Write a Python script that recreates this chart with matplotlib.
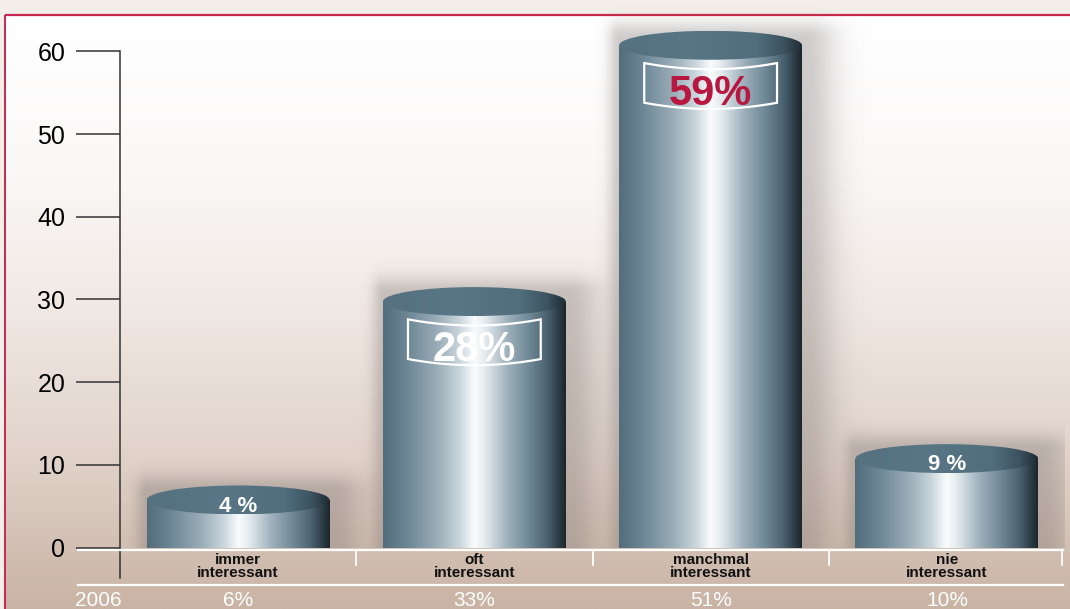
import numpy as np
import matplotlib
matplotlib.use("Agg")
import matplotlib.pyplot as plt
from matplotlib.colors import LinearSegmentedColormap, to_rgb
from matplotlib.patches import Ellipse, PathPatch
from matplotlib.path import Path

# ---------------- data ----------------
categories = ["immer\ninteressant", "oft\ninteressant", "manchmal\ninteressant", "nie\ninteressant"]
values_2010 = [4, 28, 59, 9]
labels_2010 = ["4 %", "28%", "59%", "9 %"]
year_prev = "2006"
labels_2006 = ["6%", "33%", "51%", "10%"]
yticks = [0, 10, 20, 30, 40, 50, 60]

W, H = 1070, 609
fig = plt.figure(figsize=(W / 100, H / 100), dpi=100)

# ---------------- background (pixel axes) ----------------
bg = fig.add_axes([0, 0, 1, 1])
bg.set_xlim(0, W)
bg.set_ylim(H, 0)
bg.axis("off")
bg.add_patch(plt.Rectangle((0, 0), W, H, color="#F3EEE8", zorder=0))
bg_cmap = LinearSegmentedColormap.from_list(
    "bg", [(0, "#FFFFFF"), (0.25, "#FBF9F8"), (0.5, "#F0E8E3"), (0.75, "#E0D2C9"), (1.0, "#C9B3A4")])
grad = np.linspace(0, 1, 256).reshape(-1, 1)
bg.imshow(grad, cmap=bg_cmap, extent=(5, W, H, 15), aspect="auto", zorder=1)
bg.plot([4.5, W], [14.5, 14.5], color="#C8284F", lw=1.6, zorder=2, solid_capstyle="butt")
bg.plot([4.5, 4.5], [14.5, H], color="#C8284F", lw=1.4, zorder=2, solid_capstyle="butt")

# ---------------- main axes ----------------
px_per_unit = 8.267
ymin, ymax = -7.3, 66.0
bottom_px = 547.5 + (-ymin) * px_per_unit
height_px = (ymax - ymin) * px_per_unit
ax = fig.add_axes([120 / W, (H - bottom_px) / H, 945 / W, height_px / H])
ax.patch.set_alpha(0)
ax.set_zorder(3)

n = len(categories)
xs = np.arange(n)
bw = 0.387          # half width of cylinder
eh = 1.75           # vertical semi-axis of top ellipse

body_cmap = LinearSegmentedColormap.from_list("body", [
    (0.00, "#536D7C"), (0.12, "#6A8493"), (0.30, "#9BAEB9"), (0.42, "#CAD6DD"),
    (0.50, "#FAFCFD"), (0.56, "#E3EAEE"), (0.68, "#9FB1BC"), (0.80, "#6F8896"),
    (0.90, "#4A6170"), (0.96, "#2E3E48"), (1.00, "#1C262C")])
top_cmap = LinearSegmentedColormap.from_list("top", [
    (0.00, "#56717F"), (0.40, "#587685"), (0.75, "#516E7D"), (0.90, "#3C5360"), (1.00, "#1F2B33")])
hgrad = np.linspace(0, 1, 256).reshape(1, -1)

for i, (c, v) in enumerate(zip(xs, values_2010)):
    yc = v + eh
    # soft shadow
    gx = np.linspace(c - bw - 0.15, c + bw + 0.3, 200)
    gy = np.linspace(0, yc + eh + 4, 200)
    GX, GY = np.meshgrid(gx, gy)
    dx = np.maximum(0, GX - (c + bw + 0.01)) / 0.13 + np.maximum(0, (c - bw) - GX) / 0.05
    dy = np.maximum(0, GY - (yc + eh * 0.6)) / 2.0
    d = np.sqrt(dx ** 2 + dy ** 2)
    alpha = 0.33 * np.exp(-d ** 2)
    rgba = np.zeros(GX.shape + (4,))
    rgba[..., :3] = to_rgb("#6E6866")
    rgba[..., 3] = alpha
    ax.imshow(rgba, extent=(gx[0], gx[-1], gy[0], gy[-1]), origin="lower",
              aspect="auto", zorder=1, interpolation="bilinear")
    # body
    ax.imshow(hgrad, cmap=body_cmap, extent=(c - bw, c + bw, 0, yc), aspect="auto",
              zorder=2, interpolation="bilinear")
    # top ellipse
    ell = Ellipse((c, yc), 2 * bw, 2 * eh, facecolor="none", edgecolor="none", zorder=3)
    ax.add_patch(ell)
    im = ax.imshow(hgrad, cmap=top_cmap, extent=(c - bw, c + bw, yc - eh, yc + eh),
                   aspect="auto", zorder=3, interpolation="bilinear")
    im.set_clip_path(ell)

# value labels
for i, (c, v, lab) in enumerate(zip(xs, values_2010, labels_2010)):
    if v >= 20:
        col = "#B8173F" if v == max(values_2010) else "white"
        hw = 0.281
        ytop, ybot, sag = v - 0.4, v - 5.2, 0.75
        t = np.linspace(-1, 1, 40)
        top_x = c + hw * t
        top_y = ytop - sag * (1 - t ** 2)
        bot_x = c - hw * t
        bot_y = ybot - sag * (1 - t ** 2)
        verts = list(zip(top_x, top_y)) + list(zip(bot_x, bot_y)) + [(top_x[0], top_y[0])]
        codes = [Path.MOVETO] + [Path.LINETO] * (len(verts) - 2) + [Path.CLOSEPOLY]
        ax.add_patch(PathPatch(Path(verts, codes), facecolor="none", edgecolor="white",
                               lw=1.6, zorder=5))
        ax.text(c, v - 4.1, lab, ha="center", va="center", fontsize=30, fontweight="bold",
                color=col, family="Liberation Sans", zorder=6)
    else:
        ax.text(c, v + 1.0, lab, ha="center", va="center", fontsize=16, fontweight="bold",
                color="white", family="Liberation Sans", zorder=6)

# axes styling
ax.set_xlim(-0.5, n - 0.5)
ax.set_ylim(ymin, ymax)
for s in ["top", "right", "bottom"]:
    ax.spines[s].set_visible(False)
ax.spines["left"].set_bounds(-3.7, 60)
ax.spines["left"].set_color("#333333")
ax.spines["left"].set_linewidth(1.1)
ax.set_xticks([])
ax.set_yticks(yticks)
ax.set_yticklabels([str(t) for t in yticks], fontsize=18, family="Liberation Sans")
ax.tick_params(axis="y", length=31.5, width=1.1, color="#333333", pad=8)

# baseline & separators
def px_to_x(p):
    return (p - 120) / 236.25 - 0.5

def py_to_y(p):
    return (547.5 - p) / px_per_unit

ax.plot([px_to_x(78), n - 0.5 - 0.01], [py_to_y(550)] * 2, color="white", lw=1.6,
        clip_on=False, zorder=4)
ax.plot([px_to_x(78), n - 0.5 - 0.01], [py_to_y(584.5)] * 2, color="white", lw=1.6,
        clip_on=False, zorder=4)
for b in np.arange(n) + 0.5:
    bx = min(b, n - 0.5 - 0.012)
    ax.plot([bx, bx], [py_to_y(550), py_to_y(565)], color="white", lw=1.3, clip_on=False, zorder=4)

for c, cat in zip(xs, categories):
    ax.text(c, py_to_y(566.5), cat, ha="center", va="center", fontsize=11, fontweight="bold",
            color="#111111", linespacing=0.95, family="Liberation Sans", zorder=5)
for c, lab in zip(xs, labels_2006):
    ax.text(c, py_to_y(601), lab, ha="center", va="center", fontsize=15, color="white",
            family="Liberation Sans", zorder=5, clip_on=False)
ax.text(px_to_x(98), py_to_y(600), year_prev, ha="center", va="center", fontsize=15,
        color="white", family="Liberation Sans", zorder=5, clip_on=False)

fig.savefig("out.png", dpi=100)
